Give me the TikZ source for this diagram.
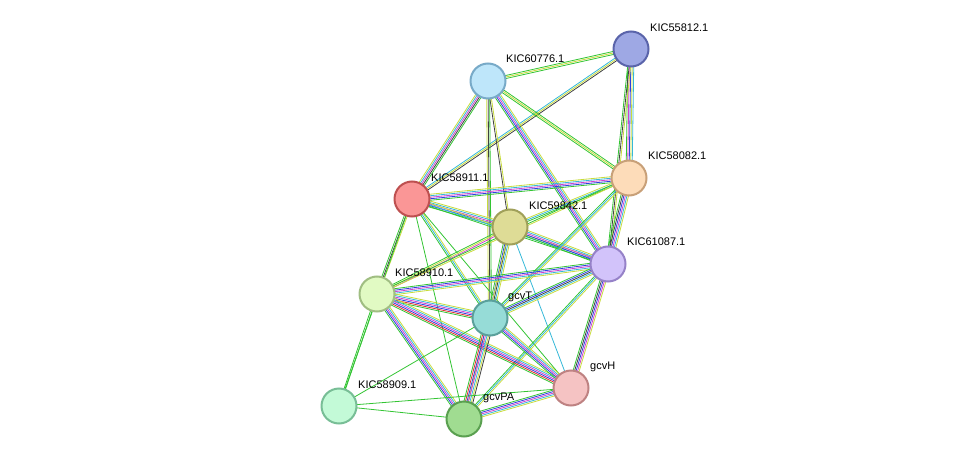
\documentclass[tikz,border=0pt]{standalone}
\usepackage{fontspec}
\setmainfont{Liberation Sans}
\usetikzlibrary{calc}
\pgfdeclarelayer{bg}\pgfsetlayers{bg,main}
\definecolor{grn}{HTML}{33C433}
\definecolor{yel}{HTML}{C8DC3C}
\definecolor{cyan}{HTML}{35B8D8}
\definecolor{mag}{HTML}{D040D0}
\definecolor{blu}{HTML}{3040E0}
\definecolor{blk}{HTML}{404040}
\definecolor{red}{HTML}{E03030}
\definecolor{fa}{RGB}{158,168,228}\definecolor{da}{RGB}{90,100,170}
\definecolor{fb}{RGB}{190,230,250}\definecolor{db}{RGB}{120,170,200}
\definecolor{fc}{RGB}{253,220,185}\definecolor{dc}{RGB}{200,160,120}
\definecolor{fd}{RGB}{250,150,150}\definecolor{dd}{RGB}{190,80,80}
\definecolor{fe}{RGB}{222,220,150}\definecolor{de}{RGB}{160,160,90}
\definecolor{ff}{RGB}{210,195,250}\definecolor{df}{RGB}{150,130,200}
\definecolor{fg}{RGB}{225,250,195}\definecolor{dg}{RGB}{160,190,130}
\definecolor{fh}{RGB}{150,220,215}\definecolor{dh}{RGB}{90,160,155}
\definecolor{fi}{RGB}{245,195,195}\definecolor{di}{RGB}{190,130,130}
\definecolor{fj}{RGB}{195,250,215}\definecolor{dj}{RGB}{120,190,150}
\definecolor{fk}{RGB}{160,220,145}\definecolor{dk}{RGB}{90,160,80}
\tikzset{
 prot/.style={circle,minimum size=35pt,inner sep=0,line width=2pt,fill=f#1,draw=d#1},
 lab/.style={anchor=west,font=\fontsize{11}{12}\selectfont,inner sep=0},
 ln/.style={line width=0.8pt}
}
\newcommand\edg[4]{%
 \foreach \c [count=\i] in {#4}{%
  \pgfmathsetmacro\o{(\i-(#3+1)/2)*1.5}%
  \draw[ln,\c] ($(#1.center)!\o pt!90:(#2.center)$) -- ($(#2.center)!\o pt!-90:(#1.center)$);}}
\begin{document}
\begin{tikzpicture}[x=1pt,y=-1pt]
\useasboundingbox (0,0) rectangle (976,465);
\node[prot=a] (a) at (631,49) {};
\node[prot=b] (b) at (488,81) {};
\node[prot=c] (c) at (629,178) {};
\node[prot=d] (d) at (412,199) {};
\node[prot=e] (e) at (510,227) {};
\node[prot=f] (f) at (608,264) {};
\node[prot=g] (g) at (377,294) {};
\node[prot=h] (h) at (490,318) {};
\node[prot=i] (i) at (571,388) {};
\node[prot=j] (j) at (339,406) {};
\node[prot=k] (k) at (464,419) {};
\begin{pgfonlayer}{bg}
\edg{b}{a}{3}{grn,yel,grn}
\edg{d}{a}{3}{blk,yel,cyan}
\edg{a}{c}{5}{grn,mag,blu,yel,cyan}
\edg{a}{f}{3}{grn,blk,yel}
\edg{b}{c}{3}{grn,yel,grn}
\edg{b}{d}{5}{yel,cyan,mag,blk,grn}
\edg{b}{e}{2}{blk,yel}
\edg{b}{f}{5}{grn,blu,mag,cyan,yel}
\edg{b}{h}{3}{yel,blk,grn}
\edg{d}{c}{5}{grn,blu,mag,cyan,yel}
\edg{d}{e}{5}{grn,blu,mag,cyan,yel}
\edg{d}{f}{3}{grn,cyan,yel}
\edg{d}{g}{3}{grn,blk,yel}
\edg{d}{h}{3}{grn,cyan,yel}
\edg{d}{i}{1}{grn}
\edg{d}{k}{1}{grn}
\edg{d}{j}{1}{grn}
\edg{e}{c}{3}{grn,cyan,yel}
\edg{e}{f}{5}{grn,blu,mag,cyan,yel}
\edg{e}{g}{3}{grn,yel,mag}
\edg{e}{h}{5}{grn,blu,blk,cyan,yel}
\edg{e}{i}{1}{cyan}
\edg{e}{k}{1}{yel}
\edg{c}{f}{6}{grn,blk,blu,mag,cyan,yel}
\edg{c}{g}{2}{grn,yel}
\edg{c}{h}{3}{grn,cyan,yel}
\edg{f}{g}{5}{grn,blu,mag,cyan,yel}
\edg{f}{h}{5}{grn,blu,blk,cyan,yel}
\edg{f}{i}{5}{grn,blk,blu,mag,yel}
\edg{f}{k}{3}{grn,cyan,yel}
\edg{g}{h}{6}{grn,red,blu,mag,cyan,yel}
\edg{g}{i}{6}{grn,red,blu,mag,cyan,yel}
\edg{g}{k}{5}{grn,blu,mag,cyan,yel}
\edg{g}{j}{2}{grn,grn}
\edg{h}{i}{5}{grn,blu,mag,cyan,yel}
\edg{h}{k}{7}{grn,red,blu,mag,cyan,yel,blk}
\edg{h}{j}{1}{grn}
\edg{i}{k}{5}{grn,blu,mag,cyan,yel}
\edg{k}{j}{1}{grn}
\edg{i}{j}{1}{grn}
\end{pgfonlayer}
\node[lab] (la) at (650,28) {KIC55812.1};
\node[lab] (lb) at (506,59) {KIC60776.1};
\node[lab] (lc) at (648,156) {KIC58082.1};
\node[lab] (ld) at (431,178) {KIC58911.1};
\node[lab] (le) at (529,206) {KIC59842.1};
\node[lab] (lf) at (627,242) {KIC61087.1};
\node[lab] (lg) at (395,273) {KIC58910.1};
\node[lab] (lh) at (508,297) {gcvT};
\node[lab] (li) at (590,367) {gcvH};
\node[lab] (lj) at (358,385) {KIC58909.1};
\node[lab] (lk) at (483,398) {gcvPA};
\end{tikzpicture}
\end{document}
